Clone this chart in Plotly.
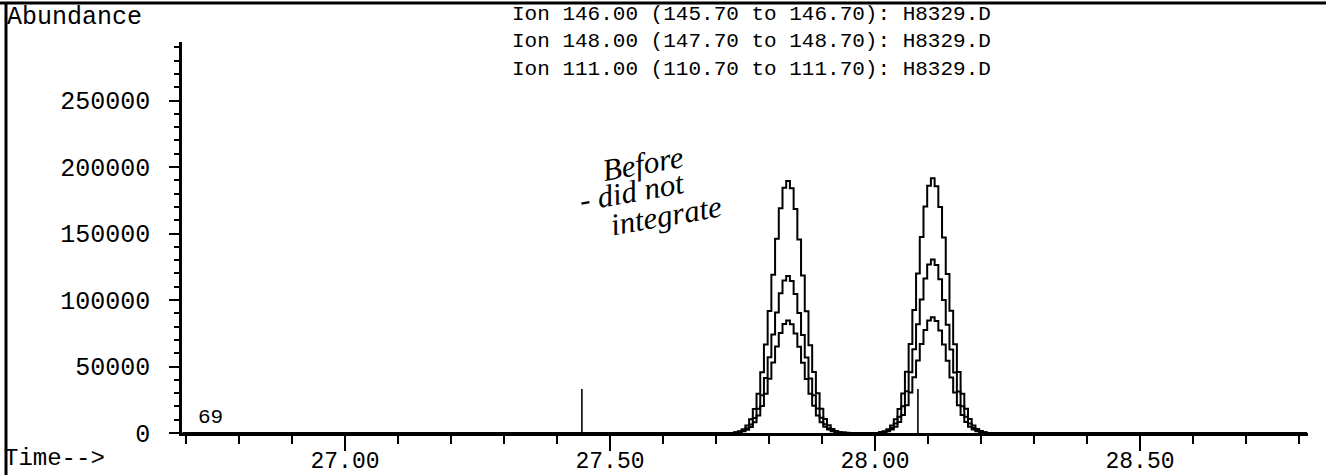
"""
Extracted ion chromatogram (ions 146, 148, 111) - H8329.D
"""

import plotly.graph_objects as go

# scan times (min)
scan_time = [
    26.694, 27.731,
    27.738, 27.745, 27.752, 27.759, 27.766, 27.773, 27.780, 27.787, 27.794, 27.801,
    27.808, 27.815, 27.822, 27.829, 27.836, 27.843, 27.850, 27.857, 27.864, 27.871,
    27.878, 27.885, 27.892, 27.899, 27.906, 27.913, 27.920, 27.927, 27.934,
    27.941, 27.948, 27.955, 27.962, 27.969, 27.976, 27.983, 27.990, 27.997, 28.004,
    28.011, 28.018, 28.025, 28.032, 28.039, 28.046, 28.053, 28.060, 28.067, 28.074,
    28.081, 28.088, 28.095, 28.102, 28.109, 28.116, 28.123, 28.130, 28.137, 28.144,
    28.151, 28.158, 28.165, 28.172, 28.179, 28.186, 28.193, 28.200, 28.207,
    28.214, 28.815,
]

# abundance per ion
ion_146 = [
    0, 0,
    600, 1400, 2900, 5600, 10300, 18000, 29500, 45600, 66500, 91800,
    119000, 146000, 169000, 184500, 189500, 184000, 168500, 145500, 118500, 91500,
    66000, 45800, 29800, 18300, 10500, 5800, 3000, 1500, 650,
    300, 120, 0, 0, 0, 0, 0, 0, 0, 0,
    630, 1400, 2900, 5600, 10400, 18100, 29700, 46000, 67000, 92500,
    120000, 147300, 170400, 186000, 191500, 185500, 170000, 147000, 119500, 92000,
    66800, 45900, 29600, 18200, 10500, 5700, 3000, 1450, 650,
    0, 0,
]
ion_148 = [
    0, 0,
    390, 860, 1800, 3500, 6400, 11200, 18300, 28300, 41300, 57000,
    74000, 90700, 105000, 114600, 118000, 114300, 104600, 90300, 73600, 56800,
    41000, 28400, 18500, 11400, 6500, 3600, 1900, 900, 420,
    200, 80, 0, 0, 0, 0, 0, 0, 0, 0,
    430, 950, 2000, 3800, 7100, 12300, 20200, 31300, 45700, 63000,
    81800, 100400, 116100, 126700, 130500, 126300, 115700, 100000, 81400, 62700,
    45500, 31200, 20100, 12300, 7100, 3800, 2000, 960, 440,
    0, 0,
]
ion_111 = [
    0, 0,
    280, 620, 1300, 2500, 4600, 8000, 13100, 20300, 29600, 40800,
    53000, 65000, 75200, 82000, 84500, 81800, 74900, 64800, 52800, 40600,
    29500, 20400, 13200, 8100, 4700, 2600, 1350, 650, 300,
    150, 60, 0, 0, 0, 0, 0, 0, 0, 0,
    290, 640, 1300, 2600, 4700, 8200, 13500, 20900, 30500, 42000,
    54500, 66900, 77400, 84500, 87000, 84300, 77100, 66600, 54300, 41800,
    30400, 20800, 13500, 8200, 4700, 2600, 1300, 650, 300,
    0, 0,
]

# integration markers
marker_time = [27.447, 28.081]
marker_height = [33000, 33000]

ion_labels = [
    "Ion 146.00 (145.70 to 146.70): H8329.D",
    "Ion 148.00 (147.70 to 148.70): H8329.D",
    "Ion 111.00 (110.70 to 111.70): H8329.D",
]
x_ticks = [27.0, 27.5, 28.0, 28.5]
x_ticktext = ["27.00", "27.50", "28.00", "28.50"]
y_ticks = [0, 50000, 100000, 150000, 200000, 250000]

MONO = "Liberation Mono, Courier New, monospace"
FS = 25

fig = go.Figure()

for ion in (ion_111, ion_148, ion_146):
    fig.add_trace(go.Scatter(
        x=scan_time, y=ion, mode="lines", line_shape="hvh",
        line=dict(color="black", width=2), showlegend=False, hoverinfo="skip"
    ))

# vertical markers
mx, my = [], []
for t, h in zip(marker_time, marker_height):
    mx += [t, t, None]
    my += [0, h, None]
fig.add_trace(go.Scatter(x=mx, y=my, mode="lines",
                         line=dict(color="black", width=1.6),
                         showlegend=False, hoverinfo="skip"))

fig.update_layout(
    width=1326, height=475,
    margin=dict(l=182, r=18, t=42, b=42, autoexpand=False),
    paper_bgcolor="white", plot_bgcolor="white",
    font=dict(family=MONO, size=FS, color="black"),
)

fig.update_xaxes(
    range=[26.6925, 28.817], showgrid=False, zeroline=False, automargin=False,
    showline=True, linecolor="black", linewidth=2.5,
    tickmode="array", tickvals=x_ticks, ticktext=x_ticktext,
    ticks="outside", ticklen=15, tickwidth=2, tickcolor="black",
    ticklabelstandoff=-10, tickfont=dict(size=23),
    minor=dict(dtick=0.1, tick0=27.0, ticks="outside", ticklen=8,
               tickwidth=2, tickcolor="black", showgrid=False),
)
fig.update_yaxes(
    range=[0, 294000], showgrid=False, zeroline=False, automargin=False,
    showline=True, linecolor="black", linewidth=2.5,
    tickmode="array", tickvals=y_ticks, ticktext=[str(v) for v in y_ticks],
    ticks="outside", ticklen=10, tickwidth=2, tickcolor="black",
    ticklabelstandoff=14,
    minor=dict(dtick=10000, ticks="outside", ticklen=5,
               tickwidth=1.5, tickcolor="black", showgrid=False),
)

# page frame (scanned report border)
fig.add_shape(type="line", xref="paper", yref="paper",
              x0=-0.1625, x1=1.02, y0=1.0997, y1=1.0997,
              line=dict(color="black", width=3))
fig.add_shape(type="line", xref="paper", yref="paper",
              x0=-0.1563, x1=-0.1563, y0=1.0997, y1=-0.11,
              line=dict(color="black", width=3))

# header text
fig.add_annotation(text="Abundance", xref="paper", yref="paper",
                   x=-0.1572, y=1.0614, xanchor="left", yanchor="middle",
                   showarrow=False, font=dict(family=MONO, size=FS))
fig.add_annotation(text="<br>".join(ion_labels), xref="paper", yref="paper",
                   x=0.5062, y=0.9995, xanchor="center", yanchor="middle",
                   align="left", showarrow=False,
                   font=dict(family=MONO, size=21))

fig.add_annotation(text="Time-->", xref="paper", yref="paper",
                   x=-0.1599, y=-0.066, xanchor="left", yanchor="middle",
                   showarrow=False, font=dict(family=MONO, size=24))
fig.add_annotation(text="69", xref="paper", yref="paper",
                   x=0.0124, y=0.0384, xanchor="left", yanchor="middle",
                   showarrow=False, font=dict(family=MONO, size=21))

# handwritten note
hand = dict(family="Liberation Serif, serif", size=31, style="italic", color="black")
for txt, xx, yy in [("Before", 0.4094, 0.6905),
                    ("- did not", 0.3996, 0.6164),
                    ("integrate", 0.4298, 0.5575)]:
    fig.add_annotation(text=txt, xref="paper", yref="paper", x=xx, y=yy,
                       xanchor="center", yanchor="middle", textangle=-10,
                       showarrow=False, font=hand)

# drop the default page margin so the figure sits at the window's corner
fig.write_html("out.html", config={"displayModeBar": False},
               post_script="document.body.style.margin='0';")
